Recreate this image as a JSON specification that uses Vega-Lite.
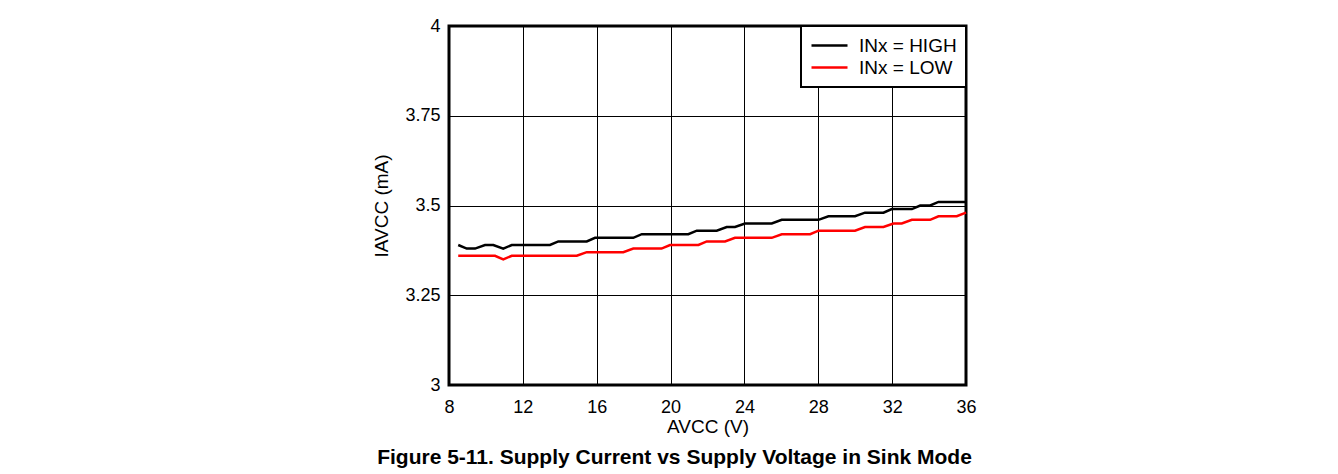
{
  "$schema": "https://vega.github.io/schema/vega-lite/v6.json",
  "width": 517,
  "height": 359,
  "autosize": {"type": "none"},
  "padding": {"left": 449, "top": 26, "right": 372, "bottom": 89},
  "background": "white",
  "title": {
    "text": "Figure 5-11. Supply Current vs Supply Voltage in Sink Mode",
    "orient": "bottom",
    "anchor": "middle",
    "dx": -33,
    "offset": 11,
    "font": "Liberation Sans",
    "fontSize": 21,
    "fontWeight": "bold",
    "color": "#000000"
  },
  "data": {
    "values": [
      {"v": 8.5, "i": 3.39, "s": "INx = HIGH"},
      {"v": 8.96, "i": 3.38, "s": "INx = HIGH"},
      {"v": 9.41, "i": 3.38, "s": "INx = HIGH"},
      {"v": 9.95, "i": 3.39, "s": "INx = HIGH"},
      {"v": 10.4, "i": 3.39, "s": "INx = HIGH"},
      {"v": 10.94, "i": 3.38, "s": "INx = HIGH"},
      {"v": 11.4, "i": 3.39, "s": "INx = HIGH"},
      {"v": 13.47, "i": 3.39, "s": "INx = HIGH"},
      {"v": 13.92, "i": 3.40, "s": "INx = HIGH"},
      {"v": 15.46, "i": 3.40, "s": "INx = HIGH"},
      {"v": 15.91, "i": 3.41, "s": "INx = HIGH"},
      {"v": 17.98, "i": 3.41, "s": "INx = HIGH"},
      {"v": 18.44, "i": 3.42, "s": "INx = HIGH"},
      {"v": 20.96, "i": 3.42, "s": "INx = HIGH"},
      {"v": 21.42, "i": 3.43, "s": "INx = HIGH"},
      {"v": 22.5, "i": 3.43, "s": "INx = HIGH"},
      {"v": 23.04, "i": 3.44, "s": "INx = HIGH"},
      {"v": 23.49, "i": 3.44, "s": "INx = HIGH"},
      {"v": 24.03, "i": 3.45, "s": "INx = HIGH"},
      {"v": 25.48, "i": 3.45, "s": "INx = HIGH"},
      {"v": 26.02, "i": 3.46, "s": "INx = HIGH"},
      {"v": 28.01, "i": 3.46, "s": "INx = HIGH"},
      {"v": 28.55, "i": 3.47, "s": "INx = HIGH"},
      {"v": 29.99, "i": 3.47, "s": "INx = HIGH"},
      {"v": 30.53, "i": 3.48, "s": "INx = HIGH"},
      {"v": 31.53, "i": 3.48, "s": "INx = HIGH"},
      {"v": 31.98, "i": 3.49, "s": "INx = HIGH"},
      {"v": 33.07, "i": 3.49, "s": "INx = HIGH"},
      {"v": 33.52, "i": 3.50, "s": "INx = HIGH"},
      {"v": 34.06, "i": 3.50, "s": "INx = HIGH"},
      {"v": 34.51, "i": 3.51, "s": "INx = HIGH"},
      {"v": 36, "i": 3.51, "s": "INx = HIGH"},
      {"v": 8.5, "i": 3.36, "s": "INx = LOW"},
      {"v": 10.49, "i": 3.36, "s": "INx = LOW"},
      {"v": 10.94, "i": 3.35, "s": "INx = LOW"},
      {"v": 11.4, "i": 3.36, "s": "INx = LOW"},
      {"v": 14.92, "i": 3.36, "s": "INx = LOW"},
      {"v": 15.46, "i": 3.37, "s": "INx = LOW"},
      {"v": 17.44, "i": 3.37, "s": "INx = LOW"},
      {"v": 17.98, "i": 3.38, "s": "INx = LOW"},
      {"v": 19.51, "i": 3.38, "s": "INx = LOW"},
      {"v": 19.97, "i": 3.39, "s": "INx = LOW"},
      {"v": 21.51, "i": 3.39, "s": "INx = LOW"},
      {"v": 21.96, "i": 3.40, "s": "INx = LOW"},
      {"v": 22.95, "i": 3.40, "s": "INx = LOW"},
      {"v": 23.49, "i": 3.41, "s": "INx = LOW"},
      {"v": 25.48, "i": 3.41, "s": "INx = LOW"},
      {"v": 26.02, "i": 3.42, "s": "INx = LOW"},
      {"v": 27.56, "i": 3.42, "s": "INx = LOW"},
      {"v": 28.01, "i": 3.43, "s": "INx = LOW"},
      {"v": 29.99, "i": 3.43, "s": "INx = LOW"},
      {"v": 30.53, "i": 3.44, "s": "INx = LOW"},
      {"v": 31.53, "i": 3.44, "s": "INx = LOW"},
      {"v": 32.07, "i": 3.45, "s": "INx = LOW"},
      {"v": 32.52, "i": 3.45, "s": "INx = LOW"},
      {"v": 33.07, "i": 3.46, "s": "INx = LOW"},
      {"v": 34.06, "i": 3.46, "s": "INx = LOW"},
      {"v": 34.51, "i": 3.47, "s": "INx = LOW"},
      {"v": 35.5, "i": 3.47, "s": "INx = LOW"},
      {"v": 36, "i": 3.48, "s": "INx = LOW"}
    ]
  },
  "mark": {"type": "line", "strokeWidth": 2.5, "interpolate": "linear"},
  "encoding": {
    "x": {
      "field": "v",
      "type": "quantitative",
      "scale": {"domain": [8, 36], "nice": false, "zero": false},
      "axis": {
        "title": "AVCC (V)",
        "values": [8, 12, 16, 20, 24, 28, 32, 36],
        "labelExpr": "'' + datum.value",
        "labelFlush": false,
        "labelOverlap": false,
        "ticks": false,
        "domain": false,
        "grid": true,
        "gridColor": "#000000",
        "gridWidth": 1,
        "gridOpacity": 1,
        "labelPadding": 13,
        "labelFontSize": 18,
        "labelFont": "Liberation Sans",
        "labelColor": "#000000",
        "titleFont": "Liberation Sans",
        "titleFontSize": 19,
        "titleFontWeight": "normal",
        "titleColor": "#000000",
        "titlePadding": 1
      }
    },
    "y": {
      "field": "i",
      "type": "quantitative",
      "scale": {"domain": [3, 4], "nice": false, "zero": false},
      "axis": {
        "title": "IAVCC (mA)",
        "values": [3, 3.25, 3.5, 3.75, 4],
        "labelExpr": "'' + datum.value",
        "labelFlush": false,
        "labelOverlap": false,
        "ticks": false,
        "domain": false,
        "grid": true,
        "gridColor": "#000000",
        "gridWidth": 1,
        "gridOpacity": 1,
        "labelPadding": 9,
        "labelFontSize": 18,
        "labelFont": "Liberation Sans",
        "labelColor": "#000000",
        "titleFont": "Liberation Sans",
        "titleFontSize": 19,
        "titleFontWeight": "normal",
        "titleColor": "#000000",
        "titlePadding": 13
      }
    },
    "color": {
      "field": "s",
      "type": "nominal",
      "scale": {"domain": ["INx = HIGH", "INx = LOW"], "range": ["#000000", "#ff0000"]},
      "legend": {
        "title": null,
        "orient": "top-right",
        "offset": 0,
        "symbolType": "M-2,0H2",
        "symbolSize": 324,
        "symbolStrokeWidth": 2.5,
        "symbolOffset": 9,
        "labelFont": "Liberation Sans",
        "labelFontSize": 19,
        "labelColor": "#000000",
        "labelOffset": 19,
        "rowPadding": 1,
        "padding": 9,
        "strokeColor": "#000000",
        "fillColor": "#ffffff",
        "encode": {"legend": {"update": {"strokeWidth": {"value": 2}}}}
      }
    }
  },
  "config": {
    "view": {"stroke": "#000000", "strokeWidth": 3},
    "font": "Liberation Sans"
  }
}
